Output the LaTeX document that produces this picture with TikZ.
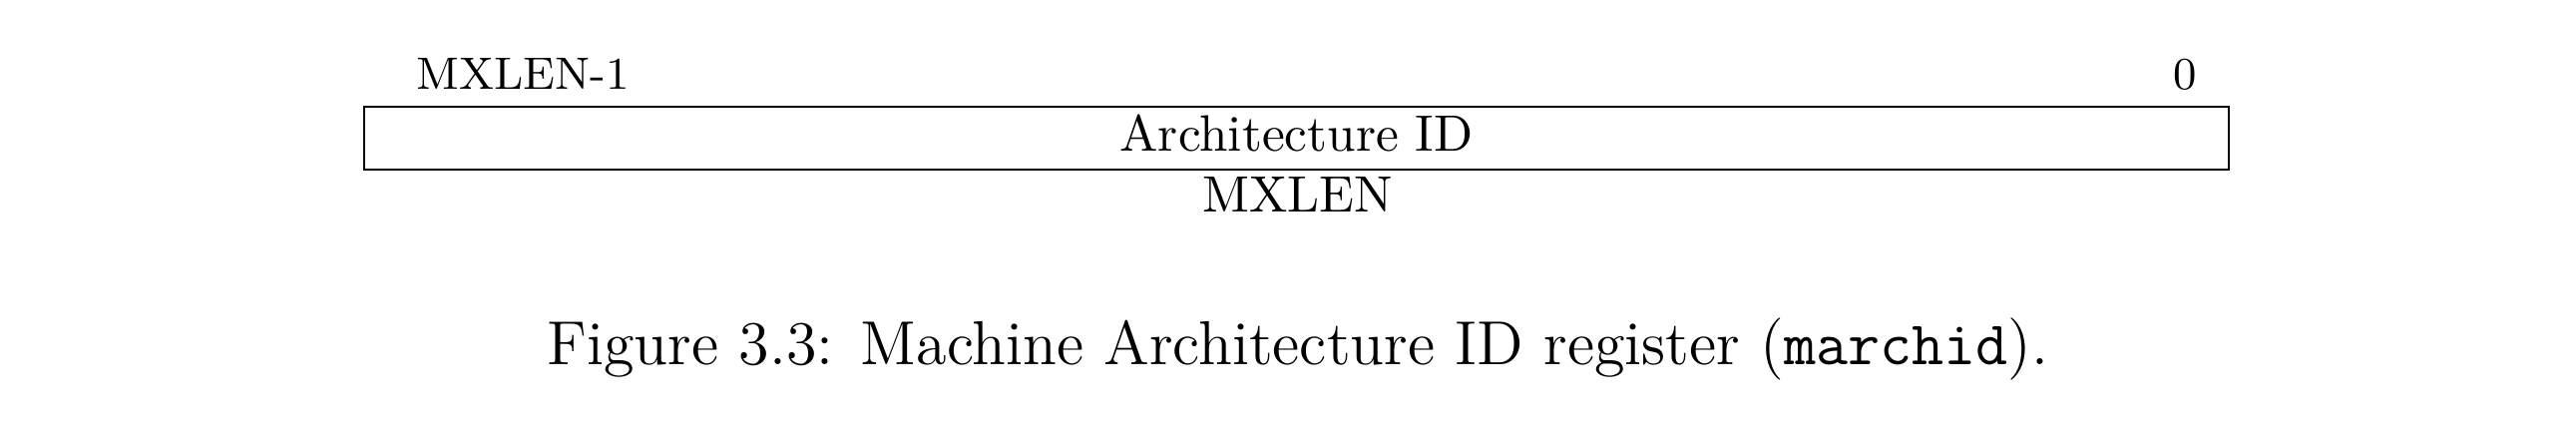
\documentclass[tikz,border=0pt]{standalone}
\begin{document}
\begin{tikzpicture}[x=0.2pt,y=-0.2pt,
  lbl/.style={inner sep=0pt,font=\fontsize{9.1}{11}\selectfont},
  fld/.style={inner sep=0pt,font=\fontsize{10.25}{13}\selectfont},
  captext/.style={inner sep=0pt,font=\fontsize{12.45}{15}\selectfont}]
\useasboundingbox (0,0) rectangle (2582,422);
\draw[line width=0.4pt] (365,107.3) rectangle (2234,170.3);
\node[lbl,anchor=base west] (hi) at (416.7,89.3) {MXLEN-1};
\node[lbl,anchor=base] (lo) at (2190,89.8) {0};
\node[fld,anchor=base] (f) at (1299.5,151.7) {Architecture ID};
\node[fld,anchor=base] (w) at (1300.5,213) {MXLEN};
\node[captext,anchor=base] (c) at (1301,365.6) {Figure 3.3: Machine Architecture ID register (\texttt{marchid}).};
\end{tikzpicture}
\end{document}
